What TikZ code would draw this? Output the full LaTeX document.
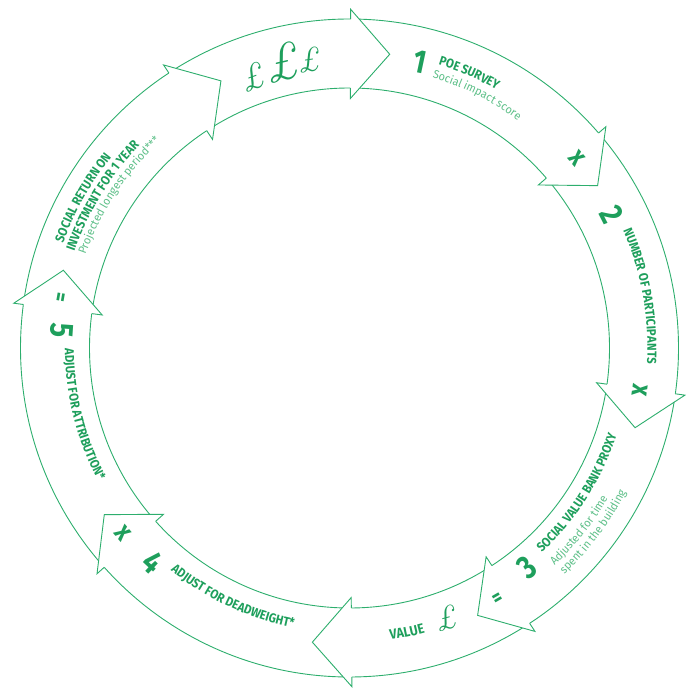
\documentclass[tikz,border=0pt]{standalone}
\usepackage{fontspec}
\newfontfamily\firaB{Fira Sans}[FakeStretch=0.885]
\newfontfamily\firaN{Fira Sans}[FakeStretch=0.82]
\newfontfamily\firaL{Fira Sans}[FakeStretch=0.95]
\usetikzlibrary{decorations.text}
\definecolor{lg}{HTML}{2DAE6D}
\definecolor{tg}{HTML}{1E9F5C}
\definecolor{sg}{HTML}{5DBF88}
\newcommand\lblfont{\firaB\bfseries\fontsize{12.9}{14}\selectfont\color{tg}}
\newcommand\valfont{\firaB\bfseries\fontsize{14}{15}\selectfont\color{tg}}
\newcommand\subfont{\firaL\fontsize{11.5}{12}\selectfont\color{sg}}
\newcommand\arctext[5]{\path[shift={(C)},decorate,decoration={text along path,text={|#4|#5},text align=left}] (#2:#1) arc[start angle=#2,end angle=#3,radius=#1];}
\tikzset{
  ring/.style={draw=lg,line width=0.9pt},
  headline/.style={draw=lg,line width=0.9pt,line join=miter},
  num/.style={inner sep=0pt,text=tg,font=\firaN\bfseries\fontsize{33}{36}\selectfont},
  op/.style={inner sep=0pt,text=tg,font=\firaN\bfseries\fontsize{28}{30}\selectfont},
  pound/.style={inner sep=0pt,text=tg,font=\itshape}
}
\begin{document}
\begin{tikzpicture}[x=1pt,y=1pt]
\useasboundingbox (0,0) rectangle (692,688);
\coordinate (C) at (349.5,340);
% ring
\draw[ring] (C) circle[radius=329pt];
\draw[ring] (C) circle[radius=260pt];
% arrow heads
\foreach \b in {123.3,89.8,40.8,-8.0,-56.8,-89.6,-138.2,172.4}{
  \fill[white,shift={(C)}] (\b:338.7pt) -- ({\b-7.6}:296.5pt) -- (\b:249.5pt) -- cycle;
  \draw[headline,shift={(C)}] (\b:329pt) -- (\b:338.7pt) -- ({\b-7.6}:296.5pt) -- (\b:249.5pt) -- (\b:260pt);
}
% pounds at top
\node[pound,font=\itshape\fontsize{36}{38}\selectfont,rotate=20] (p1) at (253,611) {£};
\node[pound,font=\itshape\fontsize{52}{54}\selectfont,rotate=13] (p2) at (283,626) {£};
\node[pound,font=\itshape\fontsize{34}{36}\selectfont,rotate=8] (p3) at (310,628) {£};
% step 1
\node[num,rotate=-12] (n1) at (420,626) {1};
\arctext{297pt}{72.6}{45}{\lblfont}{POE SURVEY}
\arctext{283pt}{73}{40}{\subfont}{Social impact score}
% step 2
\node[op,rotate=-50] (x1) at (577,530) {x};
\node[num,rotate=-63] (n2) at (612,473) {2};
\arctext{298pt}{23.3}{-15}{\lblfont}{NUMBER OF PARTICIPANTS}
\node[op,rotate=-98] (x2) at (640,298) {x};
% step 3
\node[num,rotate=39] (n3) at (527,121) {3};
\arctext{281pt}{-46.8}{-5}{\lblfont}{SOCIAL VALUE BANK PROXY}
\arctext{299pt}{-46.7}{-15}{\subfont}{Adjusted for time}
\arctext{312pt}{-46.5}{-15}{\subfont}{spent in the building}
\node[op,font=\firaN\bfseries\fontsize{22}{24}\selectfont,rotate=30] (e1) at (498,89) {=};
% value
\arctext{294.5pt}{-82}{-60}{\valfont}{VALUE}
\node[pound,font=\itshape\fontsize{33}{35}\selectfont,rotate=15] (p4) at (447,70) {£};
% step 4
\node[op,rotate=-50] (x3) at (123,155) {x};
\node[num,rotate=-43] (n4) at (153,126) {4};
\arctext{285.5pt}{-128.8}{-90}{\lblfont}{ADJUST FOR DEADWEIGHT*}
% step 5
\node[op,font=\firaN\bfseries\fontsize{22}{24}\selectfont,rotate=-100] (e2) at (59,391) {=};
\node[num,rotate=-94] (n5) at (62,358) {5};
\arctext{284.5pt}{180.1}{220}{\lblfont}{ADJUST FOR ATTRIBUTION*}
% SROI
\arctext{305pt}{159.9}{125}{\lblfont}{SOCIAL RETURN ON}
\arctext{291.5pt}{160.7}{120}{\lblfont}{INVESTMENT FOR 1 YEAR}
\arctext{280pt}{160.6}{120}{\subfont}{Projected longest period***}
\end{tikzpicture}
\end{document}
